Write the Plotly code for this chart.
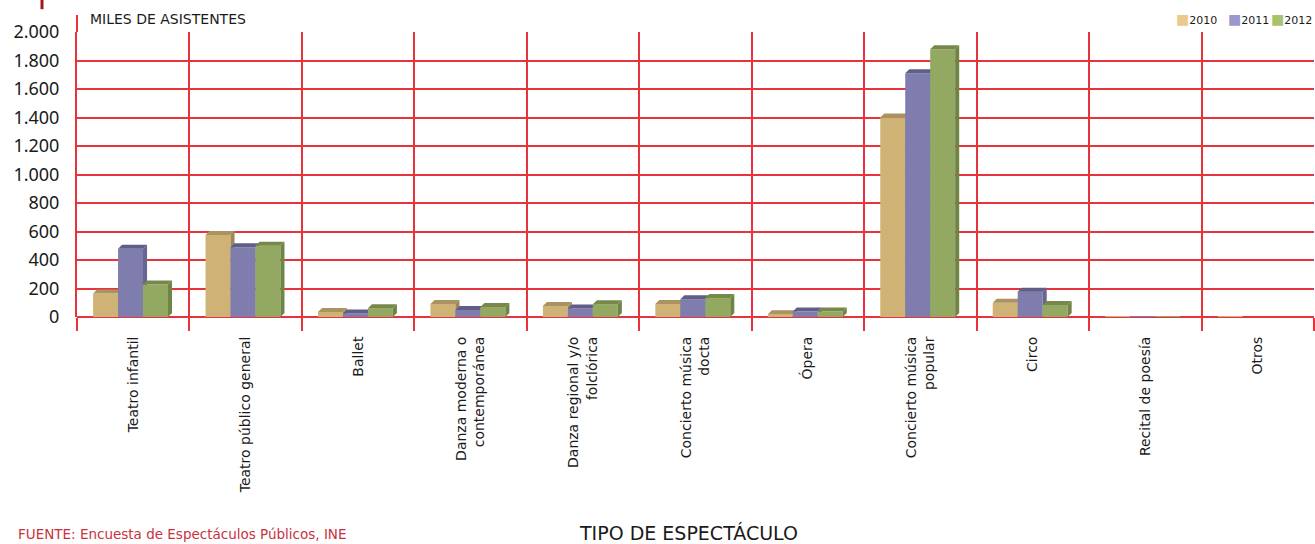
import plotly.graph_objects as go

# Asistentes por tipo de espectáculo (miles)
categorias = [
    "Teatro infantil",
    "Teatro público general",
    "Ballet",
    "Danza moderna o<br>contemporánea",
    "Danza regional y/o<br>folclórica",
    "Concierto música<br>docta",
    "Ópera",
    "Concierto música<br>popular",
    "Circo",
    "Recital de poesía",
    "Otros",
]
anios = ["2010", "2011", "2012"]
v2010 = [165, 575, 35, 92, 78, 92, 20, 1400, 100, 3, 2]
v2011 = [480, 490, 25, 50, 60, 125, 38, 1712, 178, 3, 0]
v2012 = [228, 500, 62, 70, 90, 133, 38, 1880, 85, 1, 0]
y_ticks = [0, 200, 400, 600, 800, 1000, 1200, 1400, 1600, 1800, 2000]

series = [v2010, v2011, v2012]
front = ["#CFB276", "#7F7DAD", "#93A962"]
top_c = ["#A99361", "#5F5E88", "#76894A"]
side_c = ["#9E8755", "#67668F", "#6F8445"]
leyenda_c = ["#EACA8C", "#9A97CD", "#A8C26E"]
ejes = ["x", "x2", "x3"]

GRID = "#E8333D"
w = 0.222      # ancho de barra (en unidades de categoría)
shift = -0.024
dx = 0.036     # profundidad 3D
dy = 28

n = len(categorias)
idx = list(range(n))

fig = go.Figure()
for k, vals in enumerate(series):
    xs = [i + shift + (k - 1) * w for i in idx]
    fig.add_trace(go.Bar(
        x=xs, y=vals, width=w, name=anios[k], xaxis=ejes[k],
        marker=dict(color=front[k], line=dict(width=0)),
        hoverinfo="skip",
    ))
    tx, ty, sx, sy = [], [], [], []
    for x, v in zip(xs, vals):
        if v < 5:
            continue
        x0, x1 = x - w / 2, x + w / 2
        tx += [x0, x0 + dx, x1 + dx, x1, x0, None]
        ty += [v, v + dy, v + dy, v, v, None]
        sx += [x1, x1 + dx, x1 + dx, x1, x1, None]
        sy += [0, dy, v + dy, v, 0, None]
    fig.add_trace(go.Scatter(x=tx, y=ty, xaxis=ejes[k], mode="lines", fill="toself",
                             fillcolor=top_c[k], line=dict(width=0), showlegend=False,
                             hoverinfo="skip"))
    fig.add_trace(go.Scatter(x=sx, y=sy, xaxis=ejes[k], mode="lines", fill="toself",
                             fillcolor=side_c[k], line=dict(width=0), showlegend=False,
                             hoverinfo="skip"))

# leyenda compacta arriba a la derecha
leyenda_x = [0.887, 0.929, 1.0]
leyenda_anchor = ["left", "left", "right"]
anotaciones = [
    dict(text=f"<span style='color:{leyenda_c[k]};font-size:14px'>■</span>{anios[k]}",
         xref="paper", yref="paper", x=leyenda_x[k], y=1.045,
         xanchor=leyenda_anchor[k], yanchor="middle", showarrow=False,
         font=dict(size=11, color="#1a1a1a"))
    for k in range(3)
]
anotaciones += [
    dict(text="MILES DE ASISTENTES", xref="paper", yref="paper", x=0.009, y=1.045,
         xanchor="left", yanchor="middle", showarrow=False,
         font=dict(size=14, color="#1a1a1a")),
    dict(text="TIPO DE ESPECTÁCULO", xref="paper", yref="paper", x=0.494, y=-0.758,
         xanchor="center", yanchor="middle", showarrow=False,
         font=dict(size=19, color="#1a1a1a")),
    dict(text="FUENTE: Encuesta de Espectáculos Públicos, INE", xref="paper",
         yref="paper", x=-0.049, y=-0.796, xanchor="left", yanchor="bottom",
         showarrow=False, font=dict(size=13.5, color="#C8323E")),
]

rng = [-0.5, n - 0.5]
fig.update_layout(
    width=1315, height=544,
    margin=dict(l=77, r=1, t=32, b=227),
    paper_bgcolor="white", plot_bgcolor="white",
    barmode="overlay",
    separators=",.",
    font=dict(family="DejaVu Sans", color="#1a1a1a"),
    showlegend=False,
    xaxis=dict(range=rng, tickvals=[i - 0.5 for i in range(n + 1)],
               showticklabels=False, showgrid=True, gridcolor=GRID, gridwidth=1.6,
               ticks="outside", ticklen=13, tickcolor=GRID, tickwidth=1.6,
               zeroline=False, showline=False),
    xaxis2=dict(range=rng, overlaying="x", anchor="y", side="bottom",
                tickvals=idx, ticktext=categorias, tickangle=-90,
                tickfont=dict(family="DejaVu Sans", size=14, color="#1a1a1a"),
                showgrid=False, zeroline=False, showline=False,
                ticks="outside", ticklen=13, tickcolor="rgba(0,0,0,0)"),
    xaxis3=dict(range=rng, overlaying="x", anchor="y", visible=False),
    yaxis=dict(range=[0, 2001], tickvals=y_ticks, tickformat=",d",
               showgrid=True, gridcolor=GRID, gridwidth=1.6,
               zeroline=True, zerolinecolor=GRID, zerolinewidth=1.6,
               showline=True, linecolor=GRID, linewidth=2,
               ticks="outside", ticklen=12, tickcolor="rgba(0,0,0,0)",
               tickfont=dict(family="Noto Sans", size=18, color="#1a1a1a")),
    annotations=anotaciones,
    shapes=[
        dict(type="line", xref="paper", yref="paper", x0=0, x1=0, y0=1, y1=1.06,
             line=dict(color=GRID, width=2)),
        dict(type="line", xref="paper", yref="paper", x0=-0.0283, x1=-0.0283,
             y0=1.08, y1=1.12, line=dict(color="#A01818", width=3)),
    ],
)

# sin margen del navegador, para que la figura ocupe toda la ventana
fig.write_html("out.html", config={"displayModeBar": False},
               post_script="document.body.style.margin='0';"
                           "document.body.style.overflow='hidden';")
